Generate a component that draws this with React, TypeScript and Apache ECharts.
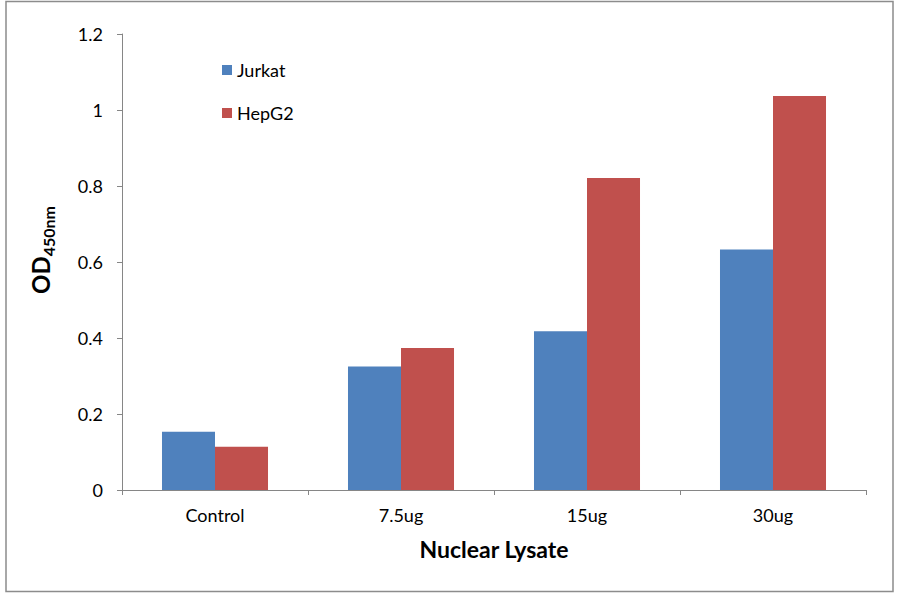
import React, { useEffect, useRef } from "react";
import * as echarts from "echarts";

const categories = ["Control", "7.5ug", "15ug", "30ug"];
const jurkat = [0.153, 0.325, 0.418, 0.633];
const hepg2 = [0.114, 0.374, 0.821, 1.037];
const yTicks = { min: 0, max: 1.2, interval: 0.2 };

const FONT = "Lato, 'Open Sans', sans-serif";
const AXIS_GREY = "#868686";

const App: React.FC = () => {
  const chartRef = useRef<HTMLDivElement>(null);

  useEffect(() => {
    const chart = echarts.init(chartRef.current!, null, { renderer: "svg" });

    chart.setOption({
      animation: false,
      backgroundColor: "#fff",
      textStyle: { fontFamily: FONT },
      // outer frame of the chart
      graphic: [
        {
          type: "rect",
          z: 100,
          silent: true,
          shape: { x: 6, y: 1.5, width: 887, height: 590 },
          style: { fill: null, stroke: "#8c8c8c", lineWidth: 1.5 },
        },
      ],
      legend: {
        orient: "vertical",
        left: 222,
        top: 61,
        padding: 0,
        itemWidth: 10,
        itemHeight: 10,
        itemGap: 25,
        icon: "rect",
        textStyle: { fontSize: 18, color: "#000", fontFamily: FONT },
        data: ["Jurkat", "HepG2"],
      },
      grid: { left: 122, right: 34, top: 34, bottom: 104 },
      xAxis: {
        type: "category",
        data: categories,
        name: "Nuclear Lysate",
        nameLocation: "middle",
        nameGap: 47,
        nameTextStyle: { fontSize: 23, fontWeight: "bold", color: "#000", fontFamily: FONT },
        axisLine: { lineStyle: { color: AXIS_GREY, width: 1 } },
        axisTick: { show: true, length: 5, lineStyle: { color: AXIS_GREY } },
        axisLabel: { fontSize: 18, color: "#000", margin: 16, fontFamily: FONT },
      },
      yAxis: {
        type: "value",
        min: yTicks.min,
        max: yTicks.max,
        interval: yTicks.interval,
        name: "{a|OD}{b|450nm}",
        nameLocation: "middle",
        nameGap: 66,
        nameTextStyle: {
          padding: [0, 0, 0, 24],
          rich: {
            a: {
              fontSize: 24,
              fontWeight: "bold",
              color: "#000",
              fontFamily: FONT,
              verticalAlign: "top",
              lineHeight: 28,
              padding: [0, 0, 8, 0],
            },
            b: {
              fontSize: 16,
              fontWeight: "bold",
              color: "#000",
              fontFamily: FONT,
              verticalAlign: "bottom",
              lineHeight: 16,
            },
          },
        },
        axisLine: { show: true, lineStyle: { color: AXIS_GREY, width: 1 } },
        axisTick: { show: true, length: 5, lineStyle: { color: AXIS_GREY } },
        splitLine: { show: false },
        axisLabel: {
          fontSize: 18,
          color: "#000",
          margin: 19,
          fontFamily: FONT,
          formatter: (v: number) => String(Math.round(v * 10) / 10),
        },
      },
      series: [
        {
          name: "Jurkat",
          type: "bar",
          data: jurkat,
          barGap: "0%",
          barCategoryGap: "43%",
          itemStyle: { color: "#4F81BD" },
        },
        {
          name: "HepG2",
          type: "bar",
          data: hepg2,
          barGap: "0%",
          barCategoryGap: "43%",
          itemStyle: { color: "#C0504D" },
        },
      ],
    });

    return () => {
      chart.dispose();
    };
  }, []);

  return (
    <div
      ref={chartRef}
      style={{ position: "fixed", left: 0, top: 0, width: "900px", height: "594px" }}
    />
  );
};

export default App;
